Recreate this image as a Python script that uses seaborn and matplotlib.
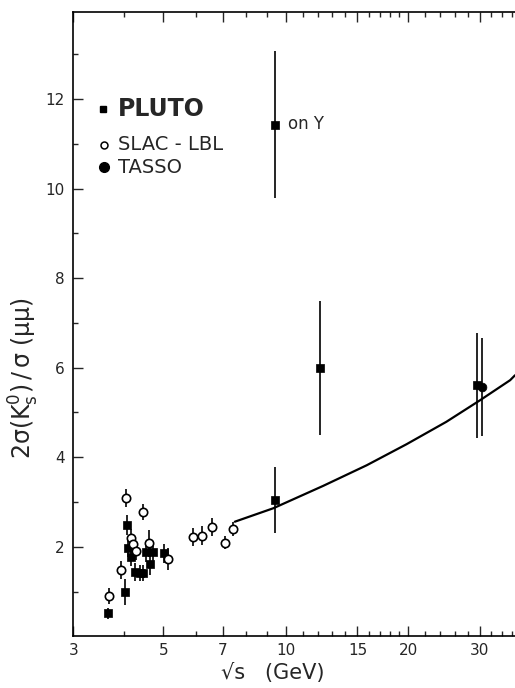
import matplotlib
matplotlib.use("Agg")
import matplotlib.pyplot as plt
import matplotlib.ticker as mticker
import pandas as pd
import seaborn as sns

# PLUTO (filled squares)
pluto_x = [3.65, 4.02, 4.06, 4.08, 4.15, 4.25, 4.38, 4.46, 4.53, 4.62, 4.72, 5.02, 9.39, 12.1, 29.5]
pluto_y = [0.51, 0.98, 2.48, 1.98, 1.78, 1.44, 1.41, 1.41, 1.89, 1.61, 1.89, 1.85, 3.04, 6.0, 5.61]
pluto_err = [0.12, 0.29, 0.22, 0.2, 0.2, 0.2, 0.18, 0.18, 0.22, 0.25, 0.25, 0.22, 0.74, 1.5, 1.17]

# PLUTO on the Upsilon
ups_x = [9.40]
ups_y = [11.43]
ups_err = [1.65]

# SLAC-LBL (open circles)
slac_x = [3.67, 3.93, 4.04, 4.15, 4.21, 4.27, 4.46, 4.61, 5.12, 5.92, 6.21, 6.58, 7.07, 7.42]
slac_y = [0.90, 1.48, 3.08, 2.20, 2.06, 1.90, 2.78, 2.08, 1.73, 2.21, 2.25, 2.45, 2.09, 2.40]
slac_err = [0.18, 0.2, 0.2, 0.2, 0.2, 0.2, 0.18, 0.3, 0.25, 0.2, 0.22, 0.2, 0.15, 0.15]

# TASSO (filled circles)
tasso_x = [30.4]
tasso_y = [5.57]
tasso_err = [1.09]

# model curve
curve_x = [7.49, 9.31, 12.35, 15.8, 19.8, 24.8, 30.0, 35.6, 36.6]
curve_y = [2.56, 2.86, 3.36, 3.82, 4.29, 4.79, 5.27, 5.72, 5.83]

x_major = [3, 5, 7, 10, 15, 20, 30]
x_minor = [4, 6, 8, 9, 11, 12, 13, 14, 16, 17, 18, 19, 22, 24, 26, 28, 32, 34, 36]

sns.set_style("ticks")
plt.rcParams['font.family'] = ['DejaVu Sans']
plt.rcParams['mathtext.default'] = 'regular'

fig = plt.figure(figsize=(5.15, 6.88), dpi=100)
ax = fig.add_axes([0.1423, 0.0751, 0.8577, 0.9079])
ax.set_xscale("log")

pluto = pd.DataFrame({"x": pluto_x + ups_x, "y": pluto_y + ups_y})
slac = pd.DataFrame({"x": slac_x, "y": slac_y})
tasso = pd.DataFrame({"x": tasso_x, "y": tasso_y})
curve = pd.DataFrame({"x": curve_x, "y": curve_y})

# error bars
for xs, ys, es in [(pluto_x, pluto_y, pluto_err), (ups_x, ups_y, ups_err),
                   (slac_x, slac_y, slac_err), (tasso_x, tasso_y, tasso_err)]:
    ax.errorbar(xs, ys, yerr=es, fmt="none", ecolor="black", elinewidth=1.2, capsize=0, zorder=2)

sns.lineplot(data=curve, x="x", y="y", color="black", linewidth=1.6, ax=ax, zorder=3)
sns.scatterplot(data=pluto, x="x", y="y", marker="s", s=38, color="black",
                edgecolor="black", linewidth=0.5, ax=ax, zorder=4)
sns.scatterplot(data=slac, x="x", y="y", marker="o", s=36, facecolor="white",
                edgecolor="black", linewidth=1.2, ax=ax, zorder=4)
sns.scatterplot(data=tasso, x="x", y="y", marker="o", s=40, color="black",
                edgecolor="black", ax=ax, zorder=4)

ax.set_xlim(3, 36.6)
ax.set_ylim(0, 13.95)

ax.xaxis.set_major_locator(mticker.FixedLocator(x_major))
ax.xaxis.set_major_formatter(mticker.FixedFormatter([str(v) for v in x_major]))
ax.xaxis.set_minor_locator(mticker.FixedLocator(x_minor))
ax.xaxis.set_minor_formatter(mticker.NullFormatter())
ax.yaxis.set_major_locator(mticker.FixedLocator([2, 4, 6, 8, 10, 12]))
ax.yaxis.set_minor_locator(mticker.FixedLocator([1, 3, 5, 7, 9, 11, 13]))

ax.tick_params(axis="x", which="both", direction="in", top=True, bottom=True, labelsize=11, pad=5)
ax.tick_params(axis="y", which="both", direction="in", left=True, right=False, labelsize=11, pad=6)
ax.tick_params(which="major", length=7, width=1)
ax.tick_params(which="minor", length=3.5, width=1)
ax.spines["right"].set_visible(False)
for s in ["left", "bottom", "top"]:
    ax.spines[s].set_linewidth(1.2)
    ax.spines[s].set_color("black")

ax.set_xlabel("√s   (GeV)", fontsize=15)
ax.xaxis.set_label_coords(0.452, -0.043)
ax.set_ylabel(r"$2\sigma(K^0_s)\,/\,\sigma\ (\mu\mu)$", fontsize=17)
ax.yaxis.set_label_coords(-0.072, 0.414)

# legend
ax.plot([0.068], [0.845], marker="s", ms=5, color="black", transform=ax.transAxes, clip_on=False)
ax.text(0.101, 0.845, "PLUTO", fontsize=17, fontweight="bold", va="center", transform=ax.transAxes)
ax.plot([0.0695], [0.787], marker="o", ms=5, mfc="white", mec="black", mew=1.1, transform=ax.transAxes)
ax.text(0.101, 0.787, "SLAC - LBL", fontsize=14, va="center", transform=ax.transAxes)
ax.plot([0.0695], [0.751], marker="o", ms=7, color="black", transform=ax.transAxes)
ax.text(0.101, 0.751, "TASSO", fontsize=14, va="center", transform=ax.transAxes)

ax.text(0.487, 0.820, "on Υ", fontsize=12, va="center", transform=ax.transAxes)

fig.savefig("out.png", dpi=100)
